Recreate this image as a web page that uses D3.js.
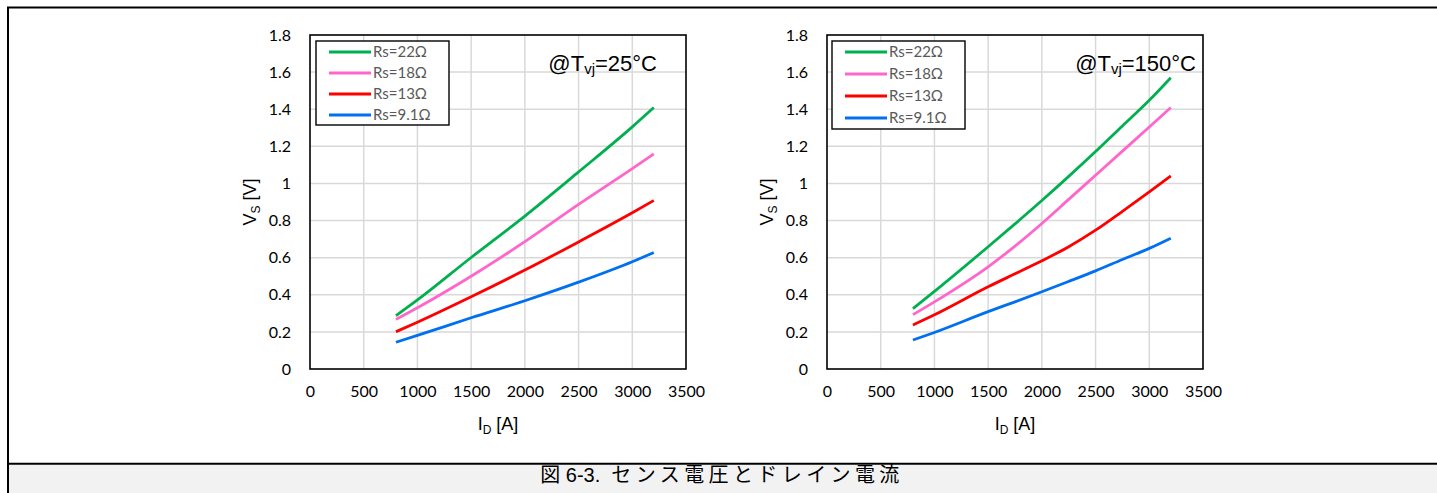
<!DOCTYPE html>
<html>
<head>
<meta charset="utf-8">
<script src="https://cdn.jsdelivr.net/npm/d3@7"></script>
<style>
  html, body { margin: 0; padding: 0; background: #fff; }
  svg { display: block; }
</style>
</head>
<body>
<svg id="fig" width="1437" height="493"></svg>
<script>
// Sense voltage Vs vs. drain current ID for several sense resistors
const seriesLabels = ["Rs=22Ω", "Rs=18Ω", "Rs=13Ω", "Rs=9.1Ω"];
const seriesColors = ["#00b050", "#ff66cc", "#ff0000", "#0070f0"];

const xTicks = [0, 500, 1000, 1500, 2000, 2500, 3000, 3500];
const yTicks = [0, 0.2, 0.4, 0.6, 0.8, 1, 1.2, 1.4, 1.6, 1.8];

// Tvj = 25 °C
const id25 = [800, 1000, 1500, 2000, 2500, 3000, 3200];
const vs25_22 = [0.287, 0.372, 0.601, 0.824, 1.062, 1.305, 1.409];
const vs25_18 = [0.267, 0.330, 0.500, 0.686, 0.887, 1.080, 1.159];
const vs25_13 = [0.201, 0.252, 0.389, 0.533, 0.685, 0.842, 0.908];
const vs25_91 = [0.144, 0.181, 0.276, 0.368, 0.468, 0.578, 0.628];

// Tvj = 150 °C
const id150 = [800, 1000, 1500, 1750, 2000, 2250, 2500, 2750, 3000, 3200];
const vs150_22 = [0.325, 0.418, 0.659, 0.782, 0.908, 1.038, 1.172, 1.310, 1.448, 1.570];
const vs150_18 = [0.293, 0.362, 0.551, 0.662, 0.784, 0.914, 1.044, 1.174, 1.304, 1.409];
const vs150_13 = [0.237, 0.292, 0.443, 0.513, 0.583, 0.659, 0.748, 0.850, 0.955, 1.041];
const vs150_91 = [0.156, 0.197, 0.309, 0.362, 0.416, 0.472, 0.529, 0.590, 0.650, 0.705];

const panels = [
  { left: 310, right: 686, temp: "25", annEnd: 657, id: id25, vs: [vs25_22, vs25_18, vs25_13, vs25_91],
    legend: { x: 316, y: 41, w: 133, h: 84, row: 21 } },
  { left: 827, right: 1203, temp: "150", annEnd: 1196, id: id150, vs: [vs150_22, vs150_18, vs150_13, vs150_91],
    legend: { x: 832, y: 41, w: 133, h: 88, row: 22 } }
];
const plotTop = 35, plotBottom = 369;

const svg = d3.select("#fig");
const tickFont = "Lato, 'Open Sans', sans-serif";
const textFont = "'Liberation Sans', Arial, sans-serif";

// outer frame and caption band
svg.append("rect").attr("x", 8).attr("y", 465).attr("width", 1440).attr("height", 30).attr("fill", "#f2f2f2");
svg.append("path").attr("d", "M8,500 V7.5 H1445").attr("fill", "none").attr("stroke", "#000").attr("stroke-width", 2);
svg.append("line").attr("x1", 8).attr("x2", 1445).attr("y1", 463.7).attr("y2", 463.7).attr("stroke", "#000").attr("stroke-width", 2);
const cap = svg.append("text").attr("x", 722).attr("y", 482).attr("text-anchor", "middle")
  .style("white-space", "pre")
  .attr("font-family", "'Liberation Sans', 'Noto Sans CJK JP', sans-serif").attr("font-size", 20).attr("fill", "#000");
cap.append("tspan").text("図 6-3.  ");
cap.append("tspan").attr("letter-spacing", 4.4).text("センス電圧とドレイン電流");

panels.forEach(p => {
  const x = d3.scaleLinear().domain([0, 3500]).range([p.left, p.right]);
  const y = d3.scaleLinear().domain([0, 1.8]).range([plotBottom, plotTop]);
  const g = svg.append("g");

  // gridlines
  g.append("g").selectAll("line").data(xTicks.slice(1, -1)).join("line")
    .attr("x1", d => x(d)).attr("x2", d => x(d)).attr("y1", plotTop).attr("y2", plotBottom)
    .attr("stroke", "#d9d9d9").attr("stroke-width", 1.5);
  g.append("g").selectAll("line").data(yTicks.slice(1, -1)).join("line")
    .attr("x1", p.left).attr("x2", p.right).attr("y1", d => y(d)).attr("y2", d => y(d))
    .attr("stroke", "#d9d9d9").attr("stroke-width", 1.5);

  // axes (labels only, frame drawn separately)
  const fmt = d3.format("~g");
  const xAxis = g.append("g").attr("transform", `translate(0,${plotBottom + 17})`)
    .call(d3.axisBottom(x).tickValues(xTicks).tickFormat(fmt).tickSize(0).tickPadding(0));
  const yAxis = g.append("g").attr("transform", `translate(${p.left - 19},0)`)
    .call(d3.axisLeft(y).tickValues(yTicks).tickFormat(fmt).tickSize(0).tickPadding(0));
  [xAxis, yAxis].forEach(a => {
    a.select(".domain").remove();
    a.selectAll("text").attr("font-family", tickFont).attr("font-size", 16).attr("fill", "#000");
  });
  xAxis.selectAll("text").attr("dy", "0.71em");

  // series lines
  const line = d3.line().x((d, i) => x(p.id[i])).y(d => y(d)).curve(d3.curveMonotoneX);
  p.vs.forEach((vals, k) => {
    g.append("path").attr("d", line(vals)).attr("fill", "none")
      .attr("stroke", seriesColors[k]).attr("stroke-width", 2.8).attr("stroke-linecap", "butt");
  });

  // plot frame
  g.append("rect").attr("x", p.left).attr("y", plotTop).attr("width", p.right - p.left).attr("height", plotBottom - plotTop)
    .attr("fill", "none").attr("stroke", "#000").attr("stroke-width", 1.6);

  // legend
  const L = p.legend;
  g.append("rect").attr("x", L.x).attr("y", L.y).attr("width", L.w).attr("height", L.h)
    .attr("fill", "#fff").attr("stroke", "#000").attr("stroke-width", 1.4);
  seriesLabels.forEach((lab, k) => {
    const yy = L.y + 11 + k * L.row;
    g.append("line").attr("x1", L.x + 13).attr("x2", L.x + 55).attr("y1", yy).attr("y2", yy)
      .attr("stroke", seriesColors[k]).attr("stroke-width", 2.8);
    g.append("text").attr("x", L.x + 57).attr("y", yy).attr("dy", "0.35em")
      .attr("font-family", tickFont).attr("font-size", 15).attr("fill", "#595959").text(lab);
  });

  // temperature annotation
  const ann = g.append("text").attr("x", p.annEnd).attr("y", 71).attr("text-anchor", "end")
    .attr("font-family", textFont).attr("font-size", 22).attr("fill", "#000");
  ann.append("tspan").text("@T");
  ann.append("tspan").attr("font-size", 15).attr("dy", 3).text("vj");
  ann.append("tspan").attr("dy", -3).text(`=${p.temp}°C`);

  // axis titles
  const xt = g.append("text").attr("x", (p.left + p.right) / 2).attr("y", 430).attr("text-anchor", "middle")
    .attr("font-family", textFont).attr("font-size", 18).attr("fill", "#000");
  xt.append("tspan").text("I");
  xt.append("tspan").attr("font-size", 12).attr("dy", 4).text("D");
  xt.append("tspan").attr("dy", -4).text(" [A]");

  const yt = g.append("text").attr("transform", `translate(${p.left - 54},${(plotTop + plotBottom) / 2}) rotate(-90)`)
    .attr("text-anchor", "middle").attr("font-family", textFont).attr("font-size", 18).attr("fill", "#000");
  yt.append("tspan").text("V");
  yt.append("tspan").attr("font-size", 12).attr("dy", 4).text("S");
  yt.append("tspan").attr("dy", -4).text(" [V]");
});
</script>
</body>
</html>
